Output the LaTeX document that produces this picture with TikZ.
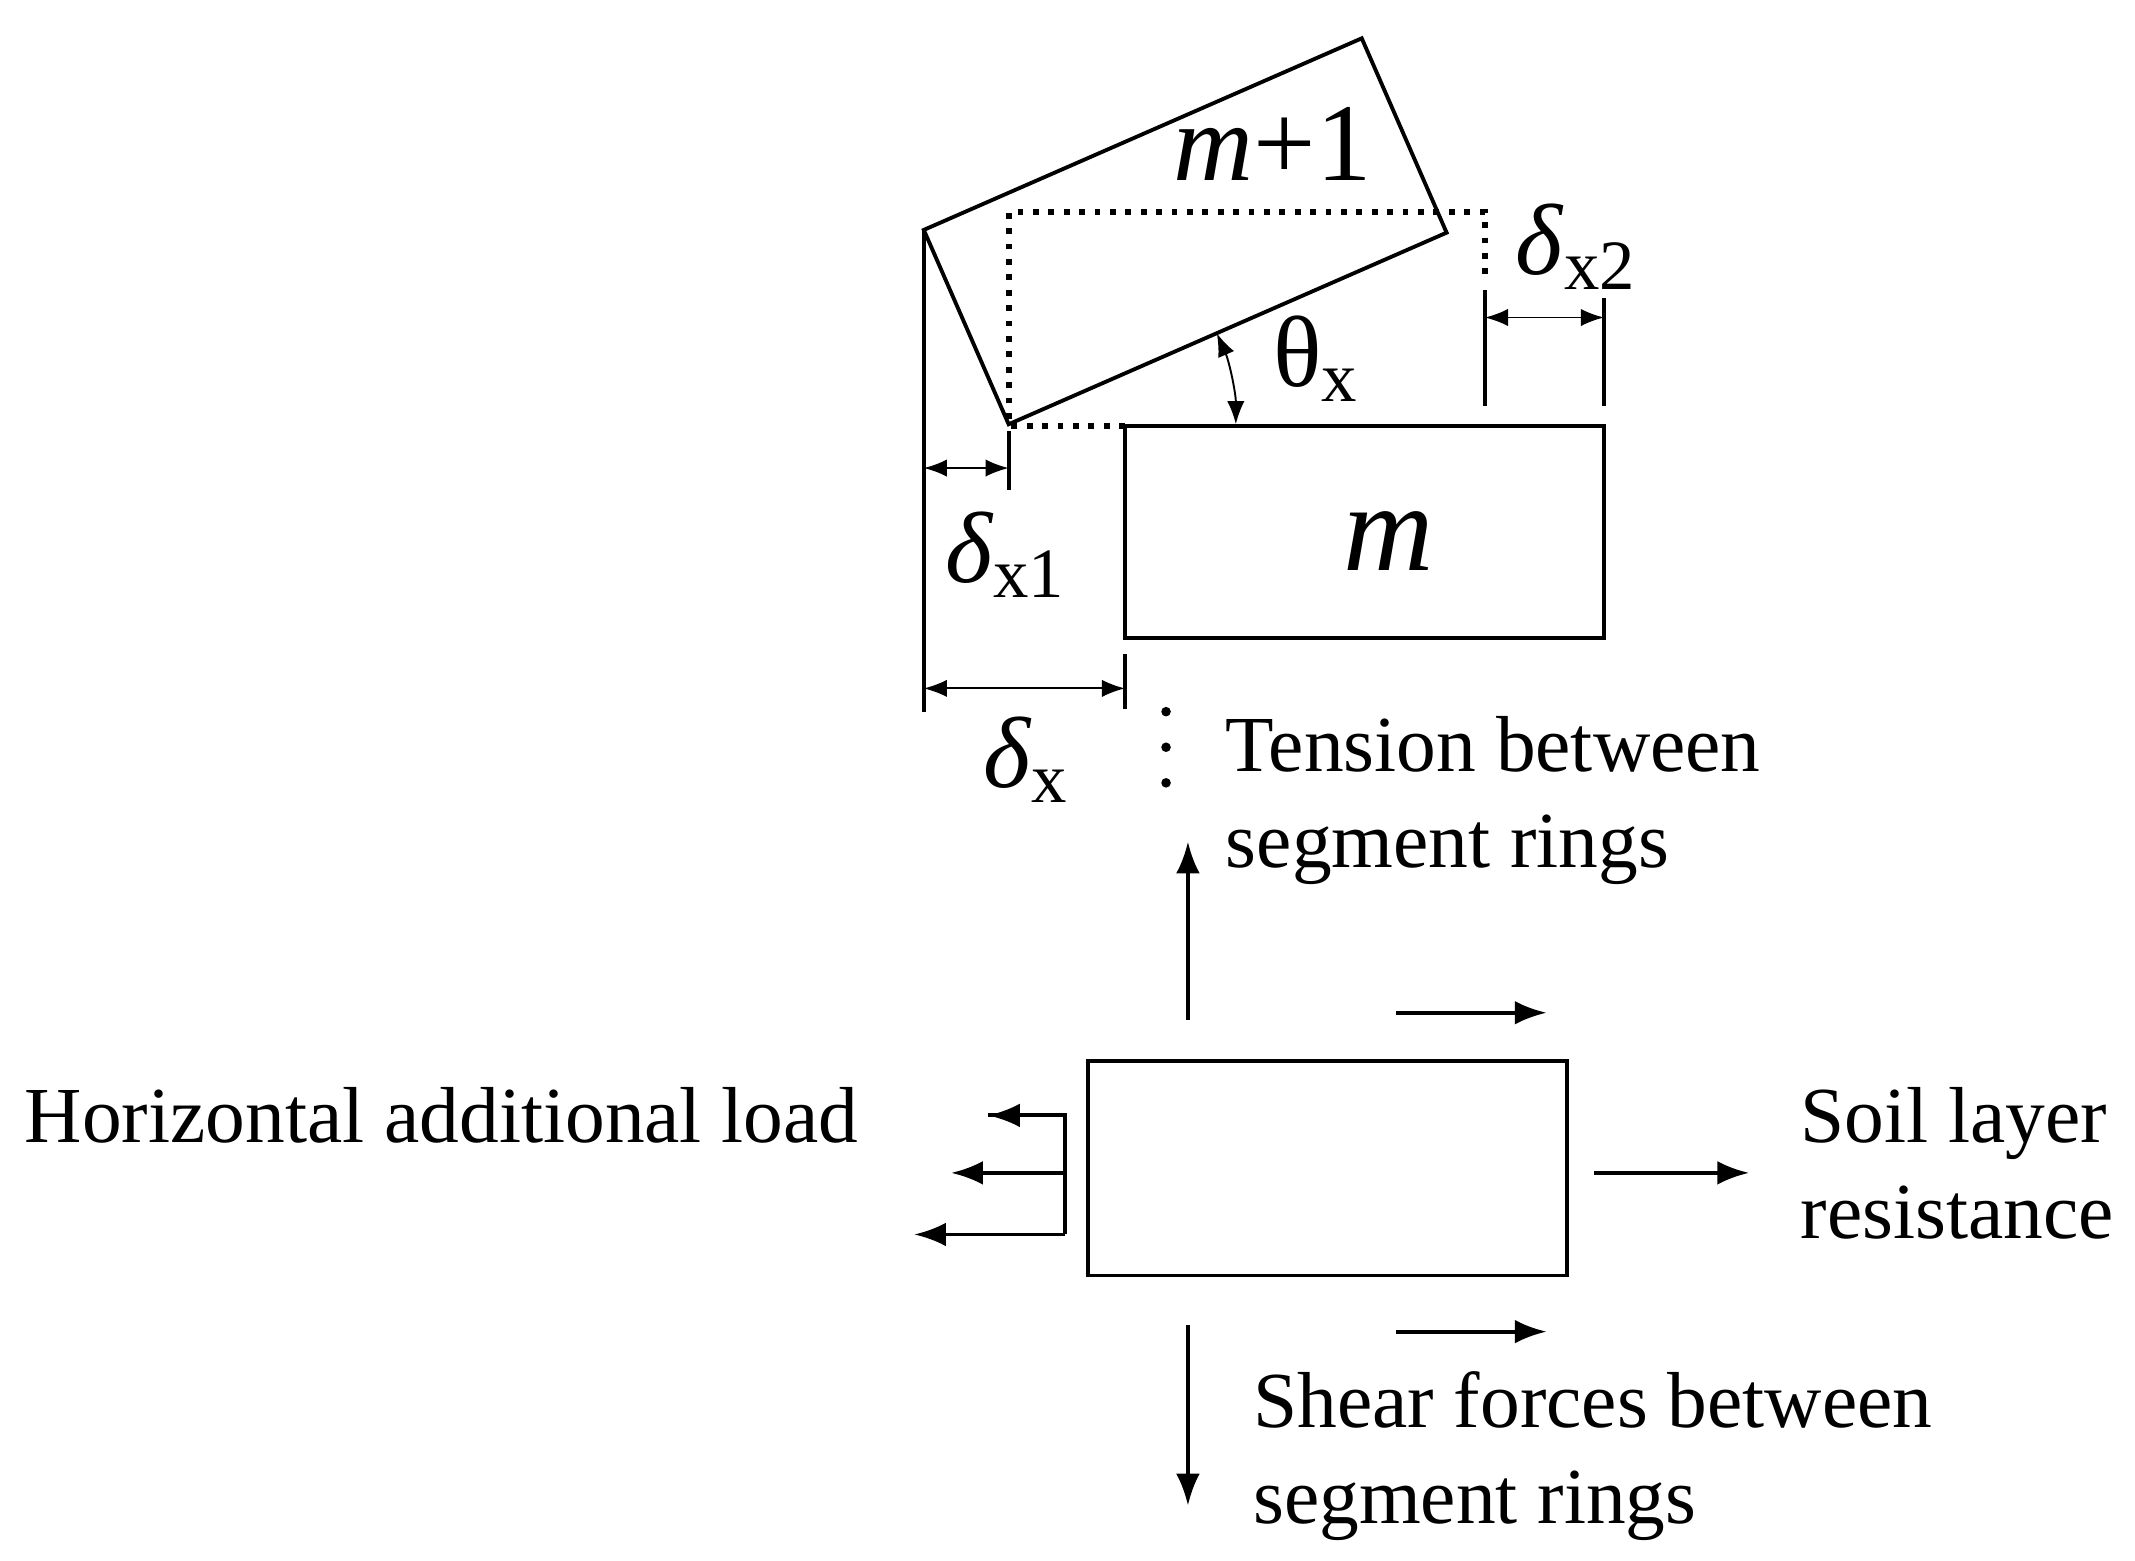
\documentclass[tikz,border=0pt]{standalone}
\usepackage{fontspec}
\setmainfont{Liberation Serif}
\usetikzlibrary{positioning,arrows.meta}
\tikzset{
  dim/.style={Latex-Latex, thin},
  force/.style={-Latex, thick},
  lbl/.style={font=\fontsize{16.5}{20}\selectfont, align=left, inner sep=0pt},
  seg/.style={thick},
}
\newcommand{\dlt}[1]{\textit{δ}\textsubscript{#1}}
\begin{document}
\begin{tikzpicture}[x=0.01cm,y=-0.01cm]
\useasboundingbox (0,0) rectangle (1560,1140);
% segment m
\draw[seg] (822,311) rectangle (1172,466);
\node[lbl, font=\fontsize{26}{30}\selectfont\itshape] (m) at (1015,395) {m};
% tilted segment m+1
\coordinate (a) at (675,168); \coordinate (b) at (995,28);
\coordinate (c) at (1057,170); \coordinate (d) at (737,310);
\draw[seg] (a) -- (b) -- (c) -- (d) -- cycle;
\node[lbl, font=\fontsize{23}{28}\selectfont] (mp) at (930,105) {\textit{m}+1};
% original position
\draw[dotted, very thick] (822,311) -- (737,311) -- (737,155) -- (1085,155) -- (1085,205);
% dimensions
\draw[seg] (a) -- (675,520);
\draw[seg] (822,478) -- (822,518);
\draw[seg] (737,315) -- (737,358);
\draw[seg] (1085,212) -- (1085,297);
\draw[seg] (1172,218) -- (1172,297);
\draw[dim] (675,342) -- (737,342);
\draw[dim] (675,503) -- (822,503);
\draw[dim] (1085,232) -- (1172,232);
\node[lbl, font=\fontsize{21}{25}\selectfont] (dx1) at (735,405) {\dlt{x1}};
\node[lbl, font=\fontsize{21}{25}\selectfont] (dx) at (750,555) {\dlt{x}};
\node[lbl, font=\fontsize{21}{25}\selectfont] (dx2) at (1152,180) {\dlt{x2}};
\draw[Latex-Latex, thin] (903,310) arc[start angle=0, end angle=-23.6, radius=166];
\node[lbl, font=\fontsize{21}{25}\selectfont] (th) at (962,262) {θ\textsubscript{x}};
% tension
\foreach \y in {520,546,572} \fill (852,\y) circle (3.5);
\node[lbl, anchor=west] (ten) at (895,585) {Tension between\\segment rings};
% lower segment
\draw[seg] (795,775) rectangle (1145,932);
\draw[force] (868,745) -- (868,615);
\draw[force] (868,968) -- (868,1100);
\draw[force] (1020,740) -- (1130,740);
\draw[force] (1020,973) -- (1130,973);
\draw[force] (1165,857) -- (1278,857);
\draw[seg] (722,815) -- (778,815) -- (778,902);
\draw[force] (778,815) -- (722,815);
\draw[force] (778,857) -- (695,857);
\draw[force] (778,902) -- (668,902);
\node[lbl, anchor=east] (hor) at (628,815) {Horizontal additional load};
\node[lbl, anchor=west] (soil) at (1315,850) {Soil layer\\resistance};
\node[lbl, anchor=west] (shear) at (915,1064) {Shear forces between\\segment rings};
\end{tikzpicture}
\end{document}
